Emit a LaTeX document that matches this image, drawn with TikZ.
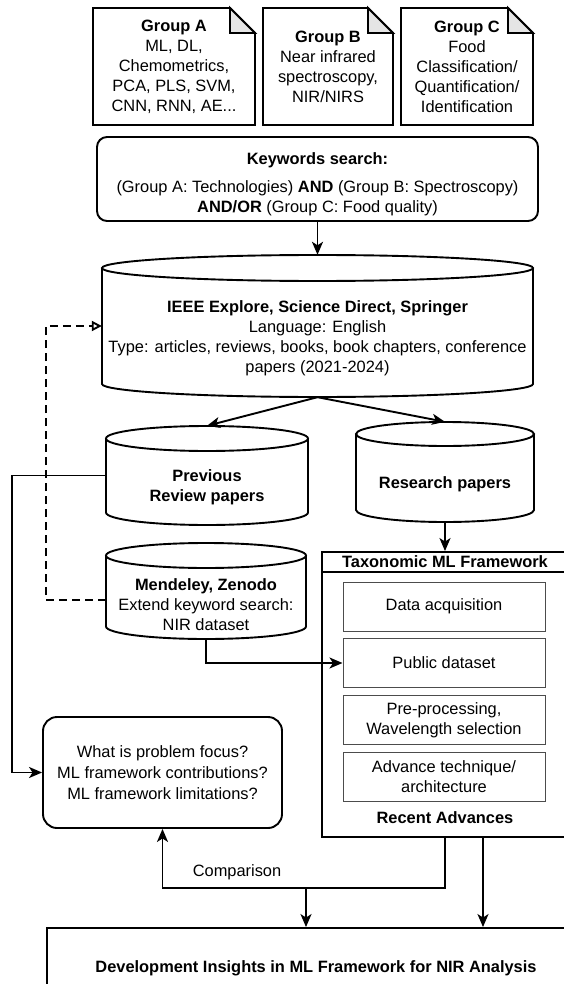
\documentclass[tikz,border=0pt]{standalone}
\usepackage{fontspec}
\setmainfont{Liberation Sans}
\usetikzlibrary{arrows.meta}
\newcommand{\notebox}[5]{%
 \draw[lw, fill=white] (#1,#2) -- ({#3-#5},#2) -- (#3,{#2+#5}) -- (#3,#4) -- (#1,#4) -- cycle;
 \draw[lw, fill=gray!20] ({#3-#5},#2) -- ({#3-#5},{#2+#5}) -- (#3,{#2+#5}) -- cycle;
}
\newcommand{\dbcyl}[6]{%
 \pgfmathsetmacro\dbxm{(#2+#3)/2}%
 \pgfmathsetmacro\dbxa{(#3-#2)/2}%
 \pgfmathsetmacro\dbyt{#4+#6}%
 \pgfmathsetmacro\dbyb{#5-#6}%
 \pgfmathsetmacro\dbyk{#5-#6+0.5523*#6}%
 \pgfmathsetmacro\dbxl{\dbxm-0.5523*\dbxa}%
 \pgfmathsetmacro\dbxr{\dbxm+0.5523*\dbxa}%
 \pgfmathsetmacro\dbym{(#4+#5)/2}%
 \pgfmathsetmacro\dbw{#3-#2}%
 \pgfmathsetmacro\dbh{#5-#4}%
 \draw[lw, fill=white] (#2,\dbyt) -- (#2,\dbyb) .. controls (#2,\dbyk) and (\dbxl,#5) .. (\dbxm,#5) .. controls (\dbxr,#5) and (#3,\dbyk) .. (#3,\dbyb) -- (#3,\dbyt);
 \draw[lw, fill=white] (\dbxm,\dbyt) ellipse [x radius=\dbxa pt, y radius=#6pt];
 \node[inner sep=0pt, minimum width=\dbw pt, minimum height=\dbh pt] (#1) at (\dbxm,\dbym) {};
}
\begin{document}
\begin{tikzpicture}[x=1pt,y=-1pt, font=\fontsize{16.4}{20}\selectfont,
  lw/.style={line width=1.9pt},
  conn/.style={line width=1.9pt, -{Stealth[length=13pt,width=11pt,inset=3.5pt]}},
  dashconn/.style={line width=1.9pt, dash pattern=on 8pt off 5pt, -{Triangle[open,length=10pt,width=10pt,fill=white]}},
  txt/.style={align=center, inner sep=0pt},
  inbox/.style={draw=black!70, line width=1pt, minimum width=202pt, minimum height=49pt, align=center, inner sep=0pt},
 ]
\useasboundingbox (0,0) rectangle (564,984);
\clip (0,0) rectangle (564,984);
\fill[white] (0,0) rectangle (564,984);

% keyword groups
\notebox{93}{8}{255}{125}{25}
\notebox{263}{8}{393}{125}{25}
\notebox{401}{8}{533}{125}{25}
\node[txt] (ga) at (174,66.5) {\textbf{Group A}\\ML, DL,\\Chemometrics,\\PCA, PLS, SVM,\\CNN, RNN, AE...};
\node[txt] (gb) at (328,66.5) {\textbf{Group B}\\Near infrared\\spectroscopy,\\NIR/NIRS};
\node[txt] (gc) at (467,66.5) {\textbf{Group C}\\Food\\Classification/\\Quantification/\\Identification};

% keywords search
\node[draw, lw, rounded corners=10pt, minimum width=441pt, minimum height=84pt] (kw) at (317.5,179) {};
\node[txt] (kwt) at (317.5,184) {\textbf{Keywords search:}\\[8pt](Group A: Technologies) \textbf{AND} (Group B: Spectroscopy)\\\textbf{AND/OR} (Group C: Food quality)};

% databases
\dbcyl{big}{102}{533}{255}{397}{13}
\node[txt] (bigt) at (317.5,338) {\textbf{IEEE Explore, Science Direct, Springer}\\Language: English\\Type: articles, reviews, books, book chapters, conference\\papers (2021-2024)};
\dbcyl{prev}{106}{308}{426}{525}{12.5}
\node[txt] (prevt) at (207,487) {\textbf{Previous}\\\textbf{Review papers}};
\dbcyl{res}{356}{534}{422}{522}{12}
\node[txt] (rest) at (445,484) {\textbf{Research papers}};
\dbcyl{mend}{106}{306}{543}{639}{12.5}
\node[txt] (mendt) at (206,605) {\textbf{Mendeley, Zenodo}\\Extend keyword search:\\NIR dataset};

% framework
\node[draw, lw, inner sep=0pt, minimum width=246pt, minimum height=285pt] (frame) at (445,694.5) {};
\draw[lw] (322,572) -- (568,572);
\node[txt] (fhead) at (445,562) {\textbf{Taxonomic ML Framework}};
\node[inbox] (acq) at (444,606.5) {Data acquisition};
\node[inbox] (pub) at (444,663) {Public dataset};
\node[inbox] (pre) at (444,720) {Pre-processing,\\Wavelength selection};
\node[inbox] (adv) at (444,776.5) {Advance technique/\\architecture};
\node[txt] (rec) at (445,818) {\textbf{Recent Advances}};

% questions
\node[draw, lw, rounded corners=14pt, minimum width=239pt, minimum height=111pt, align=center, font=\fontsize{16.4}{21}\selectfont] (quest) at (162.5,772.5) {What is problem focus?\\ML framework contributions?\\ML framework limitations?};

% result
\node[draw, lw, minimum width=538pt, minimum height=80pt] (dev) at (316,968) {\textbf{Development Insights in ML Framework for NIR Analysis}};

% connectors
\draw[conn] (kw.south) -- (big.north);
\draw[conn] (big.south) -- (prev.north);
\draw[conn] (big.south) -- (res.north);
\draw[conn] (res.south) -- (frame.north);
\draw[conn] (prev.west) -- ++(-94,0) |- (quest.west);
\draw[conn] (mend.south) |- (pub.west);
\draw[dashconn] ([yshift=-9pt]mend.west) -- ++(-60,0) |- (big.west);
\draw[conn] (frame.south) -- ++(0,50) -| (quest.south);
\node[txt] (cmp) at (237,872) {Comparison};
\coordinate (cm) at (306,887);
\draw[conn] (cm) -- (cm |- dev.north);
\coordinate (f2) at (483,837);
\draw[conn] (f2) -- (f2 |- dev.north);
\end{tikzpicture}
\end{document}
